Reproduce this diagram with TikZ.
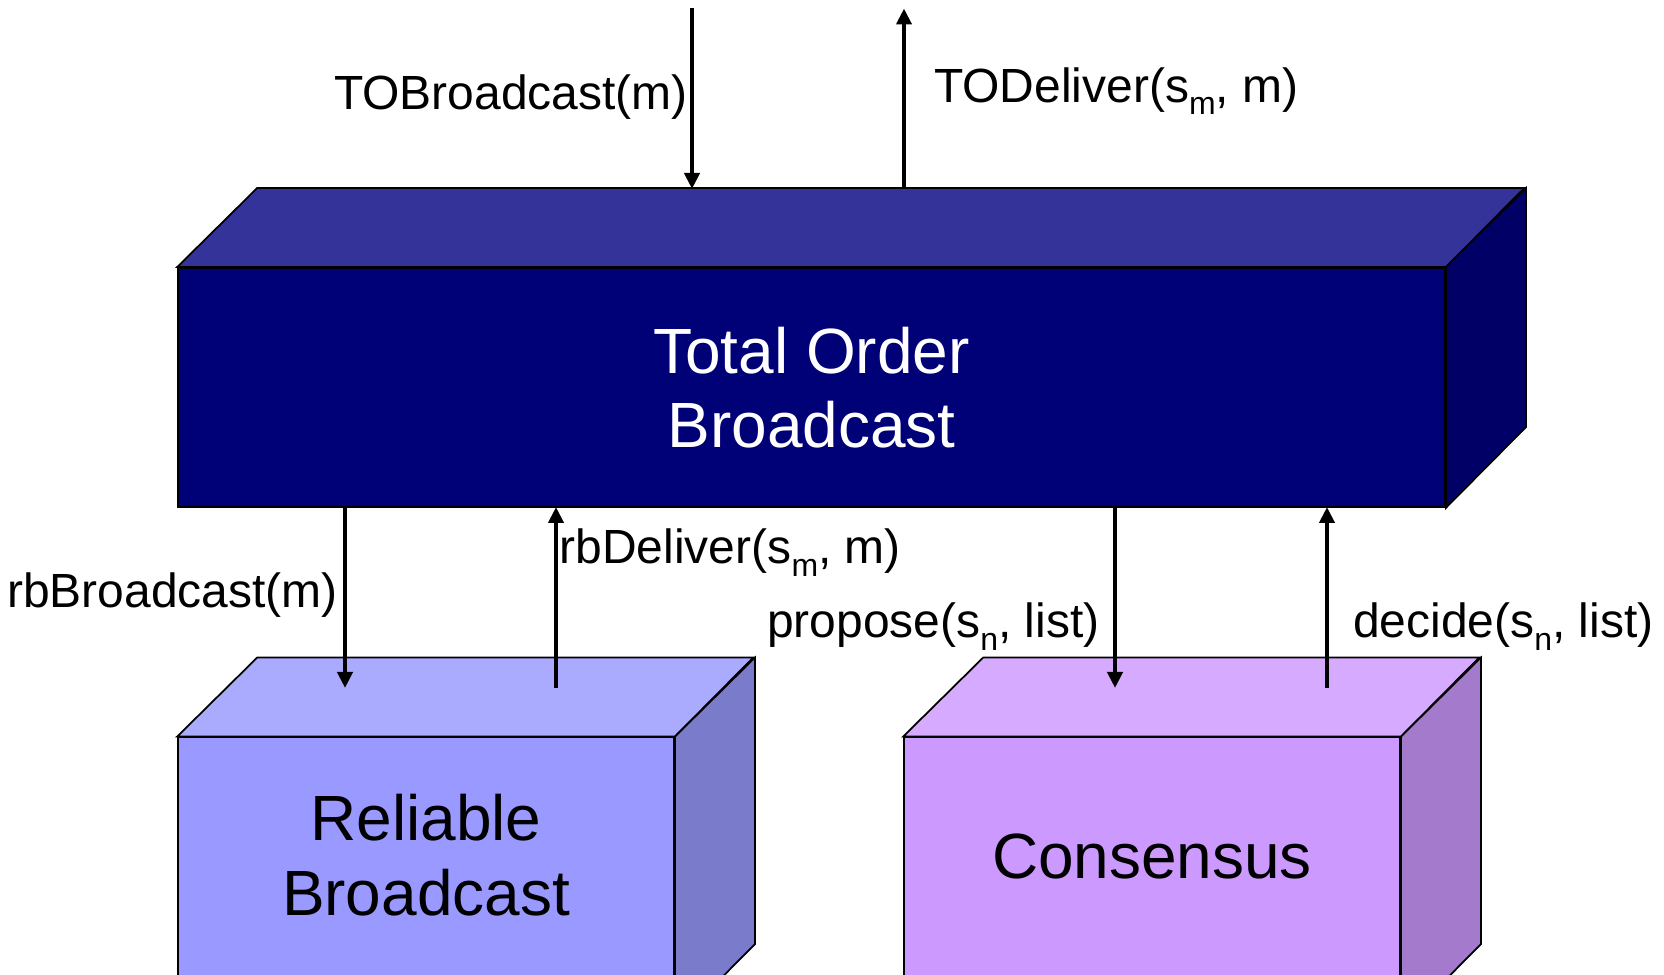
\documentclass[tikz,border=0pt]{standalone}
\usepackage{fontspec}
\setmainfont{Liberation Sans}
\usetikzlibrary{arrows.meta}

\definecolor{tofront}{HTML}{000077}
\definecolor{totop}{HTML}{333399}
\definecolor{toside}{HTML}{000066}
\definecolor{rbfront}{HTML}{9999FF}
\definecolor{rbtop}{HTML}{AAAAFF}
\definecolor{rbside}{HTML}{7B7BCC}
\definecolor{cofront}{HTML}{CC99FF}
\definecolor{cotop}{HTML}{D6AAFF}
\definecolor{coside}{HTML}{A37ACC}

% lowered index of a sequence number
\newcommand{\seqidx}[1]{\raisebox{-0.26em}{\fontsize{18.2}{20}\selectfont #1}}

\begin{document}
\begin{tikzpicture}[
	face/.style={draw=black, line width=1pt, line join=miter},
	front/.style={face, rectangle, inner sep=0pt},
	boxtext/.style={align=center, font=\fontsize{36.4}{42.5}\selectfont},
	call/.style={font=\fontsize{27.3}{32}\selectfont, inner sep=1pt},
	msg/.style={line width=0.09cm, -{Triangle[length=0.32cm, width=0.3cm]}}
]
	\useasboundingbox (0, 0) rectangle (33.28, 19.48);
	\clip (0, 0) rectangle (33.28, 19.48);

	% Total order broadcast box
	\node[front, fill=tofront, minimum width=25.34cm, minimum height=4.78cm] (tob) at (16.23, 11.73) {};
	\fill[face, fill=totop] (tob.north west) -- ++(1.6, 1.58) -- ++(25.34, 0) -- (tob.north east) -- cycle;
	\fill[face, fill=toside] (tob.north east) -- ++(1.6, 1.58) -- ++(0, -4.78) -- (tob.south east) -- cycle;
	\node[boxtext, text=white] (tobtext) at (16.23, 11.73) {Total Order\\Broadcast};

	% Reliable broadcast box
	\node[front, fill=rbfront, minimum width=9.92cm, minimum height=5.73cm] (rb) at (8.52, 1.865) {};
	\fill[face, fill=rbtop] (rb.north west) -- ++(1.6, 1.58) -- ++(9.92, 0) -- (rb.north east) -- cycle;
	\fill[face, fill=rbside] (rb.north east) -- ++(1.6, 1.58) -- ++(0, -5.73) -- (rb.south east) -- cycle;
	\node[boxtext] (rbtext) at (8.52, 2.38) {Reliable\\Broadcast};

	% Consensus box
	\node[front, fill=cofront, minimum width=9.92cm, minimum height=5.73cm] (co) at (23.04, 1.865) {};
	\fill[face, fill=cotop] (co.north west) -- ++(1.6, 1.58) -- ++(9.92, 0) -- (co.north east) -- cycle;
	\fill[face, fill=coside] (co.north east) -- ++(1.6, 1.58) -- ++(0, -5.73) -- (co.south east) -- cycle;
	\node[boxtext] (cotext) at (23.04, 2.36) {Consensus};

	% End points of the calls
	\coordinate (tobin) at (13.84, 19.31);
	\coordinate (tobtop) at (13.84, 15.70);
	\coordinate (todtop) at (18.08, 15.70);
	\coordinate (todout) at (18.08, 19.31);
	\coordinate (rbbtop) at (6.90, 9.34);
	\coordinate (rbbend) at (6.90, 5.72);
	\coordinate (rbdend) at (11.12, 5.72);
	\coordinate (rbdtop) at (11.12, 9.34);
	\coordinate (protop) at (22.30, 9.34);
	\coordinate (proend) at (22.30, 5.72);
	\coordinate (decend) at (26.54, 5.72);
	\coordinate (dectop) at (26.54, 9.34);

	% Draw the calls between the layers
	\draw[msg] (tobin) -- (tobtop);
	\draw[msg] (todtop) -- (todout);
	\draw[msg] (rbbtop) -- (rbbend);
	\draw[msg] (rbdend) -- (rbdtop);
	\draw[msg] (protop) -- (proend);
	\draw[msg] (decend) -- (dectop);

	% Labels of the calls
	\node[call, anchor=east] (tobl) at (13.80, 17.53) {TOBroadcast(m)};
	\node[call, anchor=west] (todl) at (18.64, 17.66) {TODeliver(s\seqidx{m}, m)};
	\node[call, anchor=east] (rbbl) at (6.80, 7.58) {rbBroadcast(m)};
	\node[call, anchor=west] (rbdl) at (11.15, 8.43) {rbDeliver(s\seqidx{m}, m)};
	\node[call, anchor=west] (prol) at (15.30, 6.95) {propose(s\seqidx{n}, list)};
	\node[call, anchor=west] (decl) at (27.02, 6.95) {decide(s\seqidx{n}, list)};
\end{tikzpicture}
\end{document}
